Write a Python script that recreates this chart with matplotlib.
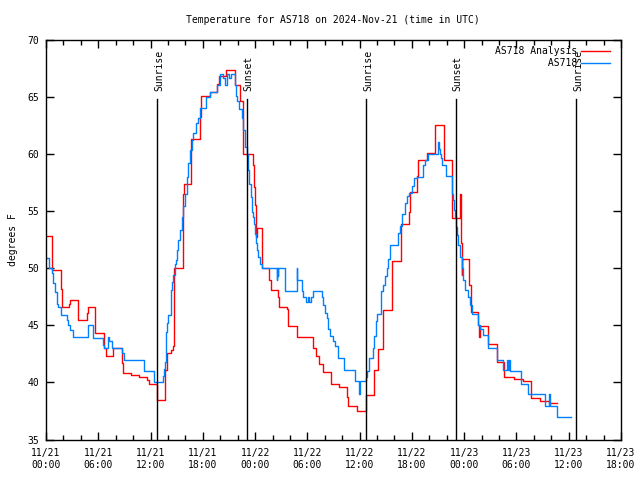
import matplotlib
matplotlib.use("Agg")
import matplotlib.pyplot as plt
from matplotlib.ticker import FixedLocator, MultipleLocator
import matplotlib.transforms as mtransforms

title = "Temperature for AS718 on 2024-Nov-21 (time in UTC)"
ylabel = "degrees F"

# hours since 2024-11-21 00:00 UTC
red_hours = [0, 0.73, 1.68, 1.80, 2.64, 2.72, 3.63, 4.67, 4.80, 5.62, 6.66, 6.85, 7.73, 8.69, 8.80,
             9.72, 10.71, 11.63, 11.78, 12.70, 13.70, 13.85, 14.40, 14.60, 14.73, 15.69, 15.85, 16.60,
             16.70, 17.68, 17.75, 18.80, 19.60, 19.80, 20.66, 21.70, 22.30, 22.65, 23.72, 23.85, 24.00,
             24.10, 24.20, 24.75, 24.85, 25.63, 25.78, 26.60, 26.80, 27.70, 27.80, 28.77, 30.60, 31.00,
             31.30, 31.80, 32.67, 33.67, 34.60, 34.70, 35.66, 36.73, 37.65, 38.15, 38.70, 39.68, 39.75,
             40.70, 40.80, 41.67, 41.75, 42.60, 42.70, 43.77, 44.65, 45.72, 46.64, 47.55, 47.62, 47.71,
             47.79, 48.59, 48.75, 49.62, 49.70, 49.80, 50.77, 51.73, 52.57, 53.76, 54.70, 55.67, 56.70,
             57.77, 58.60]
red_temps = [52.8, 49.8, 48.2, 46.6, 46.9, 47.2, 45.5, 46.1, 46.6, 44.3, 43.0, 42.3, 43.0, 41.7, 40.8,
             40.65, 40.5, 40.2, 39.9, 38.5, 41.1, 42.6, 42.8, 43.2, 50.0, 56.5, 57.4, 59.2,
             61.3, 63.2, 65.1, 65.4, 66.1, 66.8, 67.3, 66.0, 64.6, 60.0, 59.0, 57.1, 55.5,
             52.7, 53.5, 51.0, 50.0, 49.0, 48.1, 47.5, 46.6, 46.4, 44.9, 43.95, 43.0, 42.3,
             41.6, 40.9, 39.9, 39.6, 38.75, 37.9, 37.5, 38.9, 41.1, 42.9, 46.3, 48.5, 50.65,
             52.6, 53.9, 54.9, 56.7, 58.1, 59.5, 60.1, 62.5, 59.5, 54.4, 56.5, 52.2, 49.4,
             50.8, 48.5, 46.2, 45.0, 44.0, 44.9, 43.4, 41.8, 40.5, 40.3, 40.1, 38.6, 38.4,
             38.2, 38.2]

blue_hours = [0, 0.38, 0.65, 0.84, 1.03, 1.22, 1.42, 1.72, 2.37, 2.56, 2.75, 3.14, 4.86, 5.43, 6.58,
              6.66, 7.15, 7.20, 7.54, 8.69, 8.95, 11.25, 12.43, 13.39, 13.54, 13.66, 13.77, 13.93,
              14.04, 14.35, 14.45, 14.54, 14.81, 14.92, 15.00, 15.19, 15.38, 15.57, 15.76, 15.95,
              16.14, 16.34, 16.53, 16.72, 16.91, 17.22, 17.48, 17.68, 18.33, 18.82, 19.60, 19.97,
              20.36, 20.55, 20.81, 21.04, 21.20, 21.70, 21.81, 21.96, 22.19, 22.46, 22.65, 22.84,
              23.03, 23.23, 23.34, 23.49, 23.61, 23.80, 23.90, 23.99, 24.10, 24.18, 24.37, 24.56,
              24.75, 26.48, 26.52, 26.60, 26.65, 27.43, 28.77, 28.85, 29.35, 29.54, 29.84, 30.05,
              30.20, 30.40, 30.68, 31.64, 31.83, 32.02, 32.22, 32.41, 32.59, 32.98, 33.17, 33.55,
              34.20, 35.47, 35.95, 36.02, 36.73, 36.88, 37.11, 37.49, 37.65, 37.88, 37.96, 38.41,
              38.72, 38.91, 39.10, 39.29, 39.49, 40.44, 40.63, 40.82, 41.21, 41.40, 41.71, 41.97,
              42.24, 42.55, 43.23, 43.50, 43.88, 45.03, 45.11, 45.22, 45.30, 45.42, 45.91, 46.56,
              46.64, 46.75, 46.83, 46.95, 47.06, 47.21, 47.33, 47.52, 47.71, 47.90, 48.10, 48.48,
              48.67, 48.86, 49.62, 49.82, 50.20, 50.77, 51.73, 52.42, 52.95, 53.05, 53.18, 53.26,
              54.52, 55.36, 57.27, 57.77, 57.84, 58.62, 60.22]
blue_temps = [50.9, 50.0, 49.6, 48.7, 47.9, 46.9, 46.6, 45.9, 45.5, 45.0, 44.6, 44.0, 45.0, 43.9, 43.3,
              43.0, 44.0, 43.6, 43.0, 42.6, 42.0, 41.0, 40.0, 40.6, 41.2, 41.8, 44.4, 45.2,
              45.9, 48.1, 48.8, 49.4, 50.4, 50.7, 51.6, 52.5, 53.3, 54.5, 55.4, 56.5,
              58.0, 59.2, 60.3, 61.2, 61.8, 62.7, 63.1, 64.0, 65.0, 65.4, 66.0, 67.0,
              66.6, 66.0, 67.0, 66.6, 67.0, 66.0, 65.1, 64.6, 63.9, 63.1, 62.1, 60.6,
              60.0, 58.6, 57.4, 56.25, 54.9, 54.5, 53.9, 53.0, 52.2, 51.6, 51.0, 50.4,
              50.0, 49.0, 50.0, 49.3, 50.0, 48.0, 50.0, 49.0, 48.0, 47.5, 47.0, 47.5,
              47.0, 47.5, 48.0, 47.5, 46.8, 46.1, 45.6, 44.7, 44.1, 43.6, 43.2, 42.1,
              41.1, 40.1, 39.0, 40.1, 40.5, 41.0, 42.1, 43.0, 44.1, 45.4, 46.0, 48.0,
              48.5, 49.3, 50.0, 50.8, 52.0, 53.1, 53.7, 54.7, 55.7, 56.3, 56.6, 57.2,
              57.9, 58.0, 59.0, 59.5, 60.0, 61.0, 60.4, 60.0, 59.6, 59.0, 58.1, 57.6,
              56.5, 56.0, 55.1, 54.5, 53.6, 52.9, 52.0, 51.0, 50.0, 49.0, 48.1, 47.5,
              46.8, 46.0, 45.0, 44.7, 44.15, 43.0, 42.0, 41.1, 42.0, 41.1, 42.0, 41.0,
              39.9, 39.0, 37.9, 39.0, 37.9, 37.0, 37.0]

sun_hours = [12.78, 23.08, 36.77, 47.06, 60.87]
sun_labels = ["Sunrise", "Sunset", "Sunrise", "Sunset", "Sunrise"]

xtick_hours = [0, 6, 12, 18, 24, 30, 36, 42, 48, 54, 60, 66]
xtick_labels = ["11/21\n00:00", "11/21\n06:00", "11/21\n12:00", "11/21\n18:00",
                "11/22\n00:00", "11/22\n06:00", "11/22\n12:00", "11/22\n18:00",
                "11/23\n00:00", "11/23\n06:00", "11/23\n12:00", "11/23\n18:00"]
yticks = [35, 40, 45, 50, 55, 60, 65, 70]

font = ["DejaVu Sans Mono"]
plt.rcParams["font.family"] = font
plt.rcParams["font.size"] = 7

fig = plt.figure(figsize=(6.4, 4.8), dpi=100)
ax = fig.add_axes([46 / 640, 40.5 / 480, 575 / 640, 400 / 480])

ax.step(red_hours, red_temps, where="post", color="#ff0000", lw=1.0, label="AS718 Analysis")
ax.step(blue_hours, blue_temps, where="post", color="#0080ff", lw=1.0, label="         AS718")

trans = mtransforms.blended_transform_factory(ax.transData, ax.transAxes)
for h, lab in zip(sun_hours, sun_labels):
    ax.plot([h, h], [0, 0.851], transform=trans, color="black", lw=1.0)
    ax.text(h + 0.2, 0.871, lab, transform=trans, rotation=90, ha="center", va="bottom",
            fontsize=7)

ax.set_xlim(0, 66)
ax.set_ylim(35, 70)
ax.xaxis.set_major_locator(FixedLocator(xtick_hours))
ax.set_xticklabels(xtick_labels, linespacing=1.25)
ax.xaxis.set_minor_locator(MultipleLocator(2))
ax.set_yticks(yticks)
ax.set_yticklabels([str(v) for v in yticks])
ax.tick_params(which="both", direction="in", top=True, right=True, width=1.0, colors="black")
ax.tick_params(which="major", length=6)
ax.tick_params(axis="x", which="major", pad=6)
ax.tick_params(axis="y", which="major", pad=5)
ax.tick_params(which="minor", length=3.5)
for s in ax.spines.values():
    s.set_linewidth(1.0)

ax.set_ylabel(ylabel, labelpad=7)
fig.text(333 / 640, 1 - 20 / 480, title, ha="center", va="center", fontsize=7)

leg = ax.legend(loc="upper right", bbox_to_anchor=(1 - 11 / 575, 1 - 7 / 400),
                markerfirst=False, frameon=False, handlelength=3.0,
                handletextpad=0.4, labelspacing=0.2, borderaxespad=0.0, borderpad=0.0)

fig.savefig("out.png", dpi=100)
